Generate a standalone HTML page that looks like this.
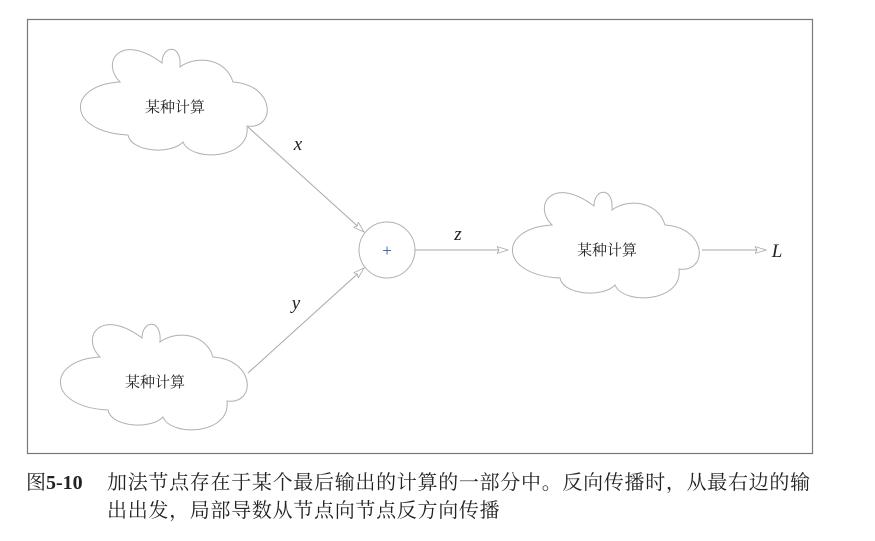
<!DOCTYPE html>
<html><head><meta charset="utf-8"><style>
body{margin:0;background:#fff;width:875px;height:541px;overflow:hidden;position:relative}
svg{position:absolute;left:0;top:0}
.cap{position:absolute;font-family:"Noto Serif CJK SC",serif;font-size:20px;line-height:24px;color:#222;white-space:nowrap;letter-spacing:0.7px}
</style></head><body>
<svg width="875" height="541" viewBox="0 0 875 541">
<defs>
<path id="cl" d="M44,42 C24,22 45,-8 86,23 C86,5 106,3 104,27 C120,15 150,18 157,42 C200,45 200,90 171,86 C175,120 115,122 107,102 C95,115 55,112 52,95 C-10,92 -10,45 44,42 Z" fill="#fff" stroke="#b0b0b0" stroke-width="1"/>
<marker id="ar" markerWidth="12" markerHeight="8" refX="11" refY="4" orient="auto" markerUnits="userSpaceOnUse">
<path d="M0,0.5 L11,4 L0,7.5 L2,4 Z" fill="#fff" stroke="#aaa" stroke-width="0.8"/>
</marker>
</defs>
<rect x="27.5" y="19.5" width="785" height="434" fill="none" stroke="#777" stroke-width="1.2"/>
<g stroke="#aaa" stroke-width="1.1" fill="none">
<line x1="248" y1="127" x2="364" y2="232" marker-end="url(#ar)"/>
<line x1="248" y1="373" x2="364" y2="268" marker-end="url(#ar)"/>
<line x1="415" y1="250" x2="508" y2="250" marker-end="url(#ar)"/>
<line x1="702" y1="250" x2="766" y2="250" marker-end="url(#ar)"/>
</g>
<use href="#cl" x="76" y="40"/>
<use href="#cl" x="56" y="315"/>
<use href="#cl" x="508" y="183"/>
<circle cx="387" cy="250" r="28" fill="#fff" stroke="#b0b0b0" stroke-width="1"/>
<g font-family="'Noto Serif CJK SC',serif" font-size="15" fill="#222" text-anchor="middle">
<text x="175" y="112">某种计算</text>
<text x="155" y="387">某种计算</text>
<text x="607" y="255">某种计算</text>
</g>
<text x="387" y="256" font-family="Liberation Serif,serif" font-size="17" fill="#2a5ea8" text-anchor="middle">+</text>
<g font-family="Liberation Serif,serif" font-style="italic" font-size="19" fill="#222" text-anchor="middle">
<text x="298" y="150">x</text>
<text x="296" y="309">y</text>
<text x="458" y="240">z</text>
<text x="777" y="257">L</text>
</g>
</svg>
<div class="cap" style="left:26px;top:469px;letter-spacing:0">图<b style="font-family:'Liberation Serif',serif">5-10</b></div>
<div class="cap" style="left:107px;top:469px">加法节点存在于某个最后输出的计算的一部分中。反向传播时，从最右边的输</div>
<div class="cap" style="left:107px;top:497px">出出发，局部导数从节点向节点反方向传播</div>
</body></html>
